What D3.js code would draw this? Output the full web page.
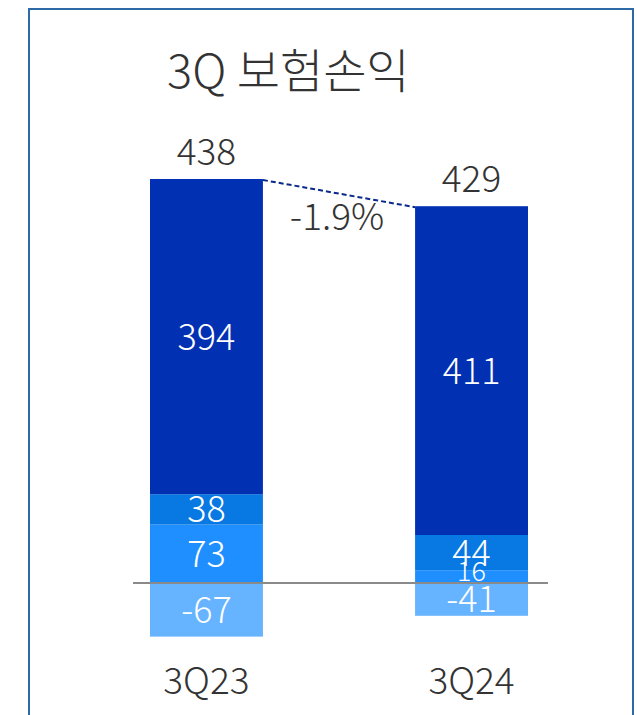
<!DOCTYPE html>
<html>
<head>
<meta charset="utf-8">
<script src="https://cdn.jsdelivr.net/npm/d3@7"></script>
<style>
  body { margin: 0; background: #fff; }
  svg { display: block; }
  text { font-family: "Noto Sans CJK KR", "Noto Sans", sans-serif; font-weight: 300; }
</style>
</head>
<body>
<script>
const title = "3Q 보험손익";
const categories = ["3Q23", "3Q24"];
const mainValues = [394, 411];
const s2Values = [38, 44];
const s3Values = [73, 16];
const negValues = [-67, -41];
const totals = [438, 429];
const changeLabel = "-1.9%";

const colors = {main: "#0230b2", s2: "#0878e2", s3: "#1f8fff", neg: "#66b3ff"};

const width = 637, height = 715;
const svg = d3.create("svg").attr("width", width).attr("height", height);

// frame
svg.append("rect")
  .attr("x", 29).attr("y", 9)
  .attr("width", 604).attr("height", 720)
  .attr("fill", "none")
  .attr("stroke", "#2e6aa8")
  .attr("stroke-width", 2);

svg.append("text")
  .attr("x", 167).attr("y", 88)
  .attr("font-size", 47)
  .attr("fill", "#333")
  .text(title);

const data = categories.map((c, i) => ({
  cat: c, main: mainValues[i], s2: s2Values[i], s3: s3Values[i], neg: negValues[i], total: totals[i]
}));

const x = d3.scaleBand().domain(categories).range([150, 528]).paddingInner(0.574);
const y = d3.scaleLinear().domain([0, 505]).range([583, 179]);

// stack positives bottom-up: s3, s2, main
const stack = d3.stack().keys(["s3", "s2", "main"]);
const layers = stack(data);
const isSmall = d => y(d[0]) - y(d[1]) < 20;

const g = svg.append("g");
layers.forEach(layer => {
  g.selectAll(null).data(layer).join("rect")
    .attr("x", d => x(d.data.cat))
    .attr("width", x.bandwidth())
    .attr("y", d => y(d[1]))
    .attr("height", d => y(d[0]) - y(d[1]))
    .attr("fill", colors[layer.key]);
});
layers.forEach(layer => {
  g.selectAll(null).data(layer).join("text")
    .attr("x", d => x(d.data.cat) + x.bandwidth() / 2)
    // thin segments: sit the label on the segment's base
    .attr("y", d => isSmall(d) ? y(d[0]) - 2 : (y(d[0]) + y(d[1])) / 2)
    .attr("dy", d => isSmall(d) ? 0 : "0.36em")
    .attr("text-anchor", "middle")
    .attr("font-size", d => isSmall(d) ? 27 : 36)
    .attr("fill", "#fff")
    .text(d => d.data[layer.key]);
});

// negative segment
g.selectAll(null).data(data).join("rect")
  .attr("x", d => x(d.cat))
  .attr("width", x.bandwidth())
  .attr("y", y(0))
  .attr("height", d => y(d.neg) - y(0))
  .attr("fill", colors.neg);
g.selectAll(null).data(data).join("text")
  .attr("x", d => x(d.cat) + x.bandwidth() / 2)
  .attr("y", d => (y(0) + y(d.neg)) / 2)
  .attr("dy", "0.36em")
  .attr("text-anchor", "middle")
  .attr("font-size", 36)
  .attr("fill", "#fff")
  .text(d => d.neg);

// zero line
svg.append("line")
  .attr("x1", 133).attr("x2", 548)
  .attr("y1", y(0)).attr("y2", y(0))
  .attr("stroke", "#8a8a8a").attr("stroke-width", 2);

// totals
const topOf = d => y(d.main + d.s2 + d.s3);
svg.selectAll(null).data(data).join("text")
  .attr("x", d => x(d.cat) + x.bandwidth() / 2)
  .attr("y", d => topOf(d) - 14)
  .attr("text-anchor", "middle")
  .attr("font-size", 37)
  .attr("fill", "#333")
  .text(d => d.total);

// dashed connector
svg.append("line")
  .attr("x1", x(categories[0]) + x.bandwidth()).attr("y1", topOf(data[0]) + 1)
  .attr("x2", x(categories[1])).attr("y2", topOf(data[1]) + 1)
  .attr("stroke", "#0a2a8a").attr("stroke-width", 2)
  .attr("stroke-dasharray", "5,3");

svg.append("text")
  .attr("x", 337).attr("y", 230)
  .attr("text-anchor", "middle")
  .attr("font-size", 37)
  .attr("fill", "#333")
  .text(changeLabel);

// category labels
svg.selectAll(null).data(categories).join("text")
  .attr("x", d => x(d) + x.bandwidth() / 2)
  .attr("y", 694)
  .attr("text-anchor", "middle")
  .attr("font-size", 37)
  .attr("fill", "#333")
  .text(d => d);

d3.select("body").append(() => svg.node());
</script>
</body>
</html>
